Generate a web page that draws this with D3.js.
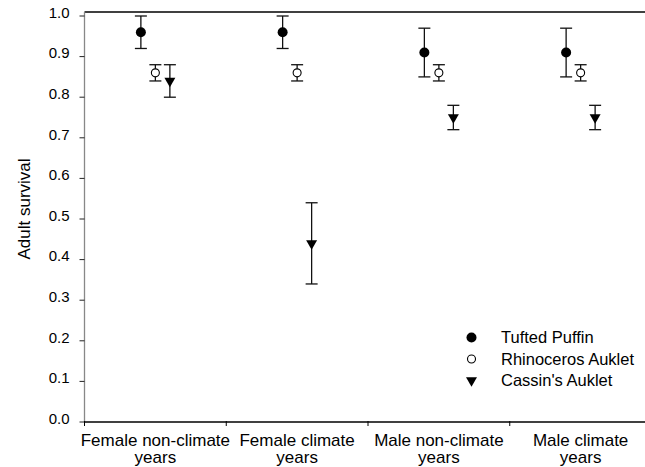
<!DOCTYPE html>
<meta charset="utf-8">
<style>
body { margin: 0; background: #fff; }
text { font-family: Arial, "Liberation Sans", sans-serif; fill: #000; }
</style>
<body>
<div id="chart"></div>
<script src="https://d3js.org/d3.v7.min.js"></script>
<script>
var categories = ['Female non-climate years', 'Female climate years', 'Male non-climate years', 'Male climate years']
var categoryLines = [['Female non-climate', 'years'], ['Female climate', 'years'], ['Male non-climate', 'years'], ['Male climate', 'years']]
var species = ['Tufted Puffin', 'Rhinoceros Auklet', "Cassin's Auklet"]

// estimate, lower, upper per category
var puffin = [[0.96, 0.92, 1.00], [0.96, 0.92, 1.00], [0.91, 0.85, 0.97], [0.91, 0.85, 0.97]]
var rhino = [[0.86, 0.84, 0.88], [0.86, 0.84, 0.88], [0.86, 0.84, 0.88], [0.86, 0.84, 0.88]]
var cassin = [[0.84, 0.80, 0.88], [0.44, 0.34, 0.54], [0.75, 0.72, 0.78], [0.75, 0.72, 0.78]]

var yTicks = [0, 0.1, 0.2, 0.3, 0.4, 0.5, 0.6, 0.7, 0.8, 0.9, 1.0]

var width = 645
var height = 467
var margin = { top: 12, left: 84.5 }
var plotRight = 651.5
var plotBottom = 422

var seriesData = [puffin, rhino, cassin]
var points = []
species.forEach(function (s, i) {
    seriesData[i].forEach(function (v, j) {
        points.push({ species: s, cat: categories[j], est: v[0], lo: v[1], hi: v[2] })
    })
})

var x = d3.scaleBand()
    .domain(categories)
    .range([margin.left, plotRight])
var offset = d3.scalePoint()
    .domain(species)
    .range([-14.5, 14.5])
var y = d3.scaleLinear()
    .domain([0, 1])
    .range([plotBottom, 16])

var svg = d3.select('#chart')
    .append('svg')
    .attr('width', width)
    .attr('height', height)

// frame top
svg.append('line')
    .attr('x1', margin.left).attr('x2', plotRight)
    .attr('y1', margin.top).attr('y2', margin.top)
    .style('stroke', '#000')
    .style('stroke-width', 1.5)

// y axis
var gy = svg.append('g')
    .attr('transform', 'translate(' + margin.left + ',0)')
gy.append('line')
    .attr('y1', margin.top).attr('y2', plotBottom)
    .style('stroke', '#888')
    .style('stroke-width', 1.3)
var yt = gy.selectAll('.tick')
    .data(yTicks)
    .enter().append('g')
    .attr('transform', function (d) { return 'translate(0,' + y(d) + ')' })
yt.append('line')
    .attr('x1', -5).attr('x2', 0)
    .style('stroke', '#222')
yt.append('text')
    .attr('x', -15)
    .attr('dy', '0.12em')
    .style('text-anchor', 'end')
    .style('font-size', '15px')
    .text(d3.format('.1f'))

svg.append('text')
    .attr('transform', 'translate(29.5,209) rotate(-90)')
    .style('text-anchor', 'middle')
    .style('font-size', '17px')
    .text('Adult survival')

// x axis
var gx = svg.append('g')
    .attr('transform', 'translate(0,' + plotBottom + ')')
gx.append('line')
    .attr('x1', margin.left).attr('x2', plotRight)
    .style('stroke', '#000')
    .style('stroke-width', 1.5)
gx.selectAll('.xtick')
    .data(categories.concat(['end']))
    .enter().append('line')
    .attr('x1', function (d, i) { return margin.left + i * x.bandwidth() })
    .attr('x2', function (d, i) { return margin.left + i * x.bandwidth() })
    .attr('y1', -1).attr('y2', 4)
    .style('stroke', '#000')
var xl = gx.selectAll('.xlabel')
    .data(categories)
    .enter().append('text')
    .attr('y', 24)
    .style('text-anchor', 'middle')
    .style('font-size', '17px')
xl.selectAll('tspan')
    .data(function (d, i) { return categoryLines[i].map(function (t) { return { t: t, c: d } }) })
    .enter().append('tspan')
    .attr('x', function (d) { return x(d.c) + x.bandwidth() / 2 })
    .attr('dy', function (d, i) { return i ? 17.3 : 0 })
    .text(function (d) { return d.t })

function px(d) { return x(d.cat) + x.bandwidth() / 2 + offset(d.species) }

var tri = d3.symbol().type(d3.symbolTriangle).size(52)

// error bars
var eb = svg.append('g').selectAll('g')
    .data(points)
    .enter().append('g')
    .style('stroke', '#111')
    .style('stroke-width', 1.3)
eb.append('line')
    .attr('x1', px).attr('x2', px)
    .attr('y1', function (d) { return y(d.lo) })
    .attr('y2', function (d) { return y(d.hi) })
eb.append('line')
    .attr('x1', function (d) { return px(d) - 6 }).attr('x2', function (d) { return px(d) + 6 })
    .attr('y1', function (d) { return y(d.lo) }).attr('y2', function (d) { return y(d.lo) })
eb.append('line')
    .attr('x1', function (d) { return px(d) - 6 }).attr('x2', function (d) { return px(d) + 6 })
    .attr('y1', function (d) { return y(d.hi) }).attr('y2', function (d) { return y(d.hi) })

function drawMarker(sel, name) {
    if (name === species[0]) {
        sel.append('circle').attr('r', 5).style('fill', '#000')
    } else if (name === species[1]) {
        sel.append('circle').attr('r', 4).style('fill', '#fff').style('stroke', '#000').style('stroke-width', 1.1)
    } else {
        sel.append('path').attr('d', tri).attr('transform', 'rotate(180)').style('fill', '#000')
    }
}

svg.append('g').selectAll('g')
    .data(points)
    .enter().append('g')
    .attr('transform', function (d) { return 'translate(' + px(d) + ',' + y(d.est) + ')' })
    .each(function (d) { drawMarker(d3.select(this), d.species) })

// legend
var lg = svg.append('g').selectAll('g')
    .data(species)
    .enter().append('g')
    .attr('transform', function (d, i) { return 'translate(471.5,' + (337.5 + i * 21.5) + ')' })
lg.each(function (d) { drawMarker(d3.select(this), d) })
lg.append('text')
    .attr('x', 29.5)
    .attr('dy', '0.36em')
    .style('font-size', '16.5px')
    .text(function (d) { return d })
</script>
</body>
